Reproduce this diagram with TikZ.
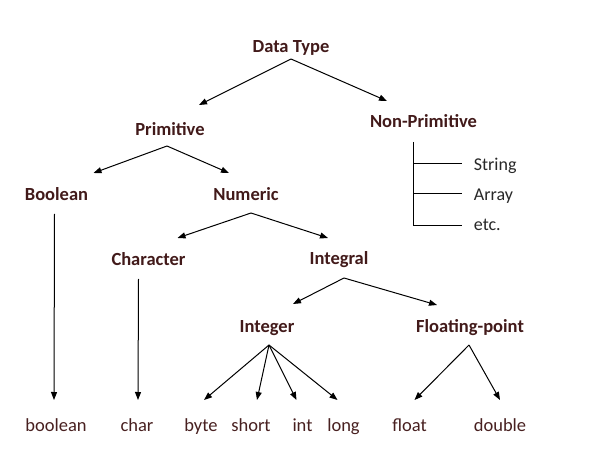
\documentclass[tikz,border=0pt]{standalone}
\usepackage{fontspec}
\setmainfont{Carlito}
\usetikzlibrary{arrows.meta, calc}
\definecolor{typebrown}{RGB}{66,26,26}
\definecolor{leafbrown}{RGB}{72,32,32}
\definecolor{listgray}{RGB}{40,40,40}
\newcommand\labelfont{\fontsize{18.5bp}{21bp}\selectfont}

\begin{document}
\begin{tikzpicture}[x=1bp, y=-1bp, >={Triangle[length=8bp, width=6bp]},
    kind/.style={font=\labelfont\bfseries, text=typebrown, anchor=base, inner sep=0pt},
    leaf/.style={font=\labelfont, text=leafbrown, anchor=base, inner sep=0pt},
    item/.style={font=\fontsize{18bp}{21bp}\selectfont, text=listgray, anchor=base west,
                 inner sep=0pt, text height=16bp, text depth=2bp},
    link/.style={->, line width=1bp}]
    \fill[white] (0,0) rectangle (602,462);
    \useasboundingbox (0,0) rectangle (602,462);

    % type nodes
    \node[kind] (dt)      at (291,53)    {Data Type};
    \node[kind] (prim)    at (170,136)   {Primitive};
    \node[kind] (nonprim) at (423.5,128) {Non-Primitive};
    \node[kind] (bool)    at (56.5,201)  {Boolean};
    \node[kind] (num)     at (246,201)   {Numeric};
    \node[kind] (chr)     at (148.5,266) {Character};
    \node[kind] (intg)    at (339,265)   {Integral};
    \node[kind] (integer) at (267,332)   {Integer};
    \node[kind] (fp)      at (470,332)   {Floating-point};

    % primitive types
    \foreach \n/\x/\t in {lboolean/56/boolean, lchar/137/char, lbyte/201/byte,
                          lshort/251/short, lint/302.5/int, llong/343.5/long,
                          lfloat/409.5/float, ldouble/500/double} {
        \node[leaf] (\n) at (\x,431) {\t};
    }

    % non-primitive list
    \node[item] (str) at (473.7,171) {String};
    \node[item] (arr) at (473.7,201) {Array};
    \node[item] (etc) at (473.7,231) {etc.};

    % arrows (offsets from the base of each label)
    \foreach \a/\ax/\ay/\b/\bx/\by in {
            dt/0/6/prim/29/-31,          dt/0/6/nonprim/-36.5/-27,
            prim/-3/10/bool/37/-28,      prim/-3/10/num/-17/-28,
            num/5/12/chr/29/-28,         num/5/12/intg/-11/-27,
            intg/5/13/integer/26/-28,    intg/5/13/fp/-33/-27,
            bool/-2/13/lboolean/-2/-31,  chr/-10/13/lchar/1/-31,
            integer/2/13/lbyte/3/-31,    integer/2/13/lshort/6/-31,
            integer/2/13/lint/-6/-31,    integer/2/13/llong/-6/-31,
            fp/-1/13/lfloat/5/-31,       fp/-1/13/ldouble/0/-31} {
        \draw[link] ($(\a.base)+(\ax,\ay)$) -- ($(\b.base)+(\bx,\by)$);
    }

    % bracket under Non-Primitive
    \coordinate (npv) at ($(nonprim.base)+(-10,14)$);
    \draw[line width=1bp] (npv) |- ([xshift=-12bp, yshift=-2bp]etc.west);
    \foreach \n in {str,arr} {
        \draw[line width=1bp] (npv |- \n.west) -- ([xshift=-12bp]\n.west);
    }
\end{tikzpicture}
\end{document}
